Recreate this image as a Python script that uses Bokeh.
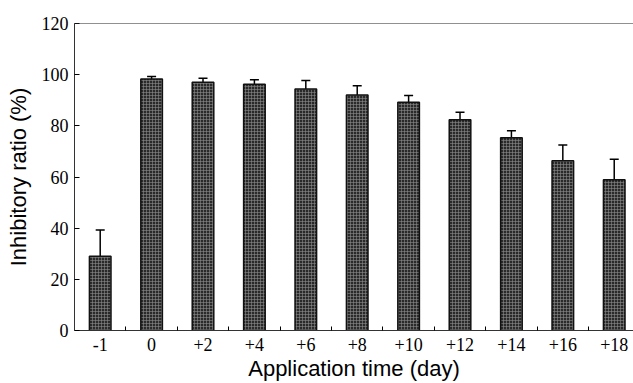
from bokeh.plotting import figure
from bokeh.models import ColumnDataSource, FixedTicker, Range1d, Span, Whisker, TeeHead
from bokeh.embed import file_html
from bokeh.resources import INLINE

# Data
categories = ["-1", "0", "+2", "+4", "+6", "+8", "+10", "+12", "+14", "+16", "+18"]
values = [29.0, 98.3, 97.0, 96.3, 94.4, 92.1, 89.2, 82.4, 75.3, 66.4, 58.9]
errors = [10.3, 1.0, 1.6, 1.7, 3.3, 3.6, 2.7, 2.9, 2.8, 6.1, 8.0]
y_ticks = [0, 20, 40, 60, 80, 100, 120]

xs = list(range(len(categories)))
src = ColumnDataSource(dict(
    x=xs, top=values,
    upper=[v + e for v, e in zip(values, errors)],
))

p = figure(width=633, height=383, output_backend="svg", toolbar_location=None,
           x_range=Range1d(-0.5, 10.375), y_range=Range1d(0, 120),
           min_border_left=74, min_border_right=0, min_border_top=23, min_border_bottom=53)
p.outline_line_color = None
p.grid.grid_line_color = None
p.background_fill_color = "white"

p.vbar(x="x", top="top", width=0.42, bottom=0, source=src,
       fill_color="#2a2a2a", line_color="#111111", line_width=1.5,
       hatch_pattern="+", hatch_color="#8c8c8c", hatch_scale=3, hatch_weight=0.6)

w = Whisker(base="x", upper="upper", lower="top", source=src,
            line_color="black", line_width=1.5,
            upper_head=TeeHead(size=9, line_color="black", line_width=1.5),
            lower_head=None)
p.add_layout(w)

p.add_layout(Span(location=120, dimension="width", line_color="#222222", line_width=1.2))

# x axis
p.xaxis.ticker = FixedTicker(ticks=xs, minor_ticks=[i + 0.5 for i in xs])
p.xaxis.major_label_overrides = {i: c for i, c in zip(xs, categories)}
p.xaxis.major_tick_in = 0
p.xaxis.major_tick_out = 0
p.xaxis.minor_tick_in = 4
p.xaxis.minor_tick_out = 0
p.xaxis.axis_line_color = "#333333"
p.xaxis.major_label_text_font = "Liberation Serif"
p.xaxis.major_label_text_font_size = "18px"
p.xaxis.major_label_text_color = "black"
p.xaxis.major_label_standoff = 7
p.xaxis.axis_label = "Application time (day)"
p.xaxis.axis_label_text_font = "Liberation Sans"
p.xaxis.axis_label_text_font_style = "normal"
p.xaxis.axis_label_text_font_size = "22px"
p.xaxis.axis_label_text_color = "black"
p.xaxis.axis_label_standoff = 2

# y axis
p.yaxis.ticker = FixedTicker(ticks=y_ticks, minor_ticks=[])
p.yaxis.major_tick_in = 5
p.yaxis.major_tick_out = 0
p.yaxis.minor_tick_in = 0
p.yaxis.minor_tick_out = 0
p.yaxis.axis_line_color = "#333333"
p.yaxis.major_label_text_font = "Liberation Serif"
p.yaxis.major_label_text_font_size = "18px"
p.yaxis.major_label_text_color = "black"
p.yaxis.major_label_standoff = 6
p.yaxis.axis_label = "Inhibitory ratio (%)"
p.yaxis.axis_label_text_font = "Liberation Sans"
p.yaxis.axis_label_text_font_style = "normal"
p.yaxis.axis_label_text_font_size = "22px"
p.yaxis.axis_label_text_color = "black"
p.yaxis.axis_label_standoff = 8

open("out.html", "w").write(file_html(p, INLINE))
